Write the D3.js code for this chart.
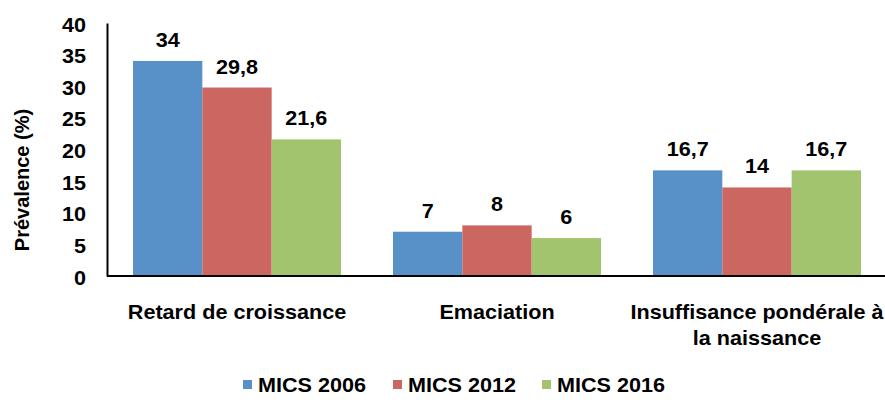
<!DOCTYPE html>
<html>
<head>
<meta charset="utf-8">
<script src="https://cdn.jsdelivr.net/npm/d3@7"></script>
<style>
  html, body { margin: 0; padding: 0; background: #fff; }
  svg text { font-family: "Liberation Sans", Arial, Helvetica, sans-serif; font-weight: bold; fill: #000; font-size: 20px; }
</style>
</head>
<body>
<svg id="chart" width="885" height="403"></svg>
<script>
// Prevalence of child malnutrition indicators across MICS survey rounds
const categories = ["Retard de croissance", "Emaciation", "Insuffisance pondérale à la naissance"];
const categoryLines = [["Retard de croissance"], ["Emaciation"], ["Insuffisance pondérale à", "la naissance"]];
const seriesNames = ["MICS 2006", "MICS 2012", "MICS 2016"];
const mics2006 = [34, 7, 16.7];
const mics2012 = [29.8, 8, 14];
const mics2016 = [21.6, 6, 16.7];
const yTicks = [0, 5, 10, 15, 20, 25, 30, 35, 40];
const colors = ["#5890C8", "#CC6661", "#A2C46E"];

const seriesValues = [mics2006, mics2012, mics2016];
const fmt = v => String(v).replace(".", ",");
const widen = 1.08; // slightly wide lettering

const svg = d3.select("#chart");
const plotLeft = 107, plotRight = 887, plotTop = 23, plotBottom = 276;

const y = d3.scaleLinear().domain([0, 40]).range([plotBottom, plotTop]);
const x0 = d3.scaleBand().domain(categories).range([plotLeft, plotRight]).paddingInner(0.2).paddingOuter(0.1);
const x1 = d3.scaleBand().domain(seriesNames).range([0, x0.bandwidth()]);

const rows = i => seriesNames.map((s, k) => ({ s, k, v: seriesValues[k][i] }));

// Bars
const groups = svg.append("g").selectAll("g")
  .data(categories)
  .join("g")
  .attr("transform", d => `translate(${x0(d)},0)`);

groups.selectAll("rect")
  .data((c, i) => rows(i))
  .join("rect")
  .attr("x", d => x1(d.s))
  .attr("width", x1.bandwidth())
  .attr("y", d => y(d.v))
  .attr("height", d => y(0) - y(d.v))
  .attr("fill", d => colors[d.k]);

// Value labels
groups.selectAll("text")
  .data((c, i) => rows(i))
  .join("text")
  .attr("transform", d => `translate(${x1(d.s) + x1.bandwidth() / 2},${y(d.v) - 14}) scale(${widen},1)`)
  .attr("text-anchor", "middle")
  .text(d => fmt(d.v));

// Y axis
const yAxis = svg.append("g")
  .attr("transform", `translate(${plotLeft},0)`)
  .call(d3.axisLeft(y).tickValues(yTicks).tickSize(0).tickPadding(21));
yAxis.select(".domain").attr("stroke", "#000").attr("stroke-width", 2);
yAxis.selectAll(".tick text")
  .attr("font-family", null)
  .attr("font-size", null)
  .attr("x", null)
  .attr("dy", "0.4em")
  .attr("transform", `translate(-21,0) scale(${widen},1)`);

// X axis baseline
const xAxis = svg.append("g")
  .attr("transform", `translate(0,${plotBottom})`)
  .call(d3.axisBottom(x0).tickSize(0).tickFormat(""));
xAxis.select(".domain").attr("stroke", "#000").attr("stroke-width", 2)
  .attr("d", `M${plotLeft},0H885`);

// Category labels
svg.append("g").selectAll("text")
  .data(categories)
  .join("text")
  .attr("transform", d => `translate(${x0(d) + x0.bandwidth() / 2},319) scale(${widen},1)`)
  .attr("text-anchor", "middle")
  .each(function (d, i) {
    d3.select(this).selectAll("tspan")
      .data(categoryLines[i])
      .join("tspan")
      .attr("x", 0)
      .attr("dy", (l, j) => j === 0 ? 0 : 26)
      .text(l => l);
  });

// Y axis title
svg.append("text")
  .attr("transform", "translate(29,180) rotate(-90)")
  .attr("text-anchor", "middle")
  .text("Prévalence (%)");

// Legend
const legendX = [243, 393, 542];
const legend = svg.append("g").selectAll("g")
  .data(seriesNames)
  .join("g")
  .attr("transform", (d, i) => `translate(${legendX[i]},380)`);
legend.append("rect").attr("width", 9).attr("height", 9).attr("fill", (d, i) => colors[i]);
legend.append("text")
  .attr("transform", `translate(15,12) scale(${widen},1)`)
  .text(d => d);
</script>
</body>
</html>
